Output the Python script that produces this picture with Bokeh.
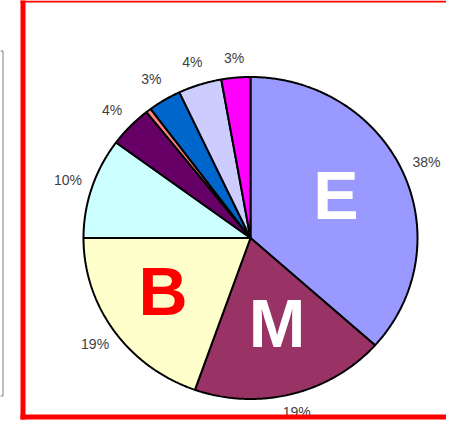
import numpy as np
from bokeh.plotting import figure
from bokeh.models import Range1d, BoxAnnotation, ColumnDataSource
from bokeh.core.properties import value
from bokeh.embed import file_html
from bokeh.resources import INLINE

# ---- data (clockwise from 12 o'clock) ----
categories = ["E", "M", "B", "C5", "C6", "C7", "C8", "C9", "C10"]
shares = [36.6, 18.8, 19.6, 10.1, 4.2, 0.5, 3.2, 4.2, 2.8]
pct_labels = ["38%", "19%", "19%", "10%", "4%", "", "3%", "4%", "3%"]
colors = ["#9999FF", "#993366", "#FFFFCC", "#CCFFFF", "#660066",
          "#FF8080", "#0066CC", "#CCCCFF", "#FF00FF"]
label_radius = [1.155, 1.115, 1.14, 1.15, 1.15, 1.15, 1.155, 1.15, 1.125]
big_letters = ["E", "M", "B"]
big_colors = ["white", "white", "#FF0000"]
big_radius = [0.577, 0.551, 0.62]
big_angle_shift = [3.4, 2.4, -2.9]

W, H = 446, 421
p = figure(width=W, height=H, output_backend="svg", toolbar_location=None,
           min_border=0, x_axis_type=None, y_axis_type=None)
p.outline_line_color = None
p.grid.visible = False
p.background_fill_color = "white"

# scale: 167 px per unit horizontally, 161 px per unit vertically
cx, cy = 250.0, 237.5
sx, sy = 167.0, 161.0
p.x_range = Range1d(-cx / sx, (W - cx) / sx)
p.y_range = Range1d(-(H - cy) / sy, cy / sy)

vals = np.array(shares, dtype=float)
fr = vals / vals.sum()
ends = 90.0 - 360.0 * np.cumsum(fr)
starts = np.concatenate([[90.0], ends[:-1]])

xs, ys = [], []
for a0, a1 in zip(starts, ends):
    t = np.radians(np.linspace(a0, a1, max(4, int(abs(a0 - a1) * 2))))
    xs.append([0.0] + list(np.cos(t)) + [0.0])
    ys.append([0.0] + list(np.sin(t)) + [0.0])

src = ColumnDataSource(dict(xs=xs, ys=ys, color=colors, cat=categories))
p.patches("xs", "ys", source=src, fill_color="color", line_color="black",
          line_width=2)

mid_deg = (starts + ends) / 2
mids = np.radians(mid_deg)
lr = np.array(label_radius)
lab_src = ColumnDataSource(dict(x=lr * np.cos(mids), y=lr * np.sin(mids),
                                t=pct_labels))
p.text("x", "y", text="t", source=lab_src, text_align="center",
       text_baseline="middle", text_font=value("Liberation Sans"),
       text_font_size="14px", text_color="#404040")

ang = np.radians(mid_deg[:3] + np.array(big_angle_shift))
rad = np.array(big_radius)
big_src = ColumnDataSource(dict(x=rad * np.cos(ang), y=rad * np.sin(ang),
                                t=big_letters, c=big_colors))
p.text("x", "y", text="t", source=big_src, text_color="c",
       text_align="center", text_baseline="middle",
       text_font=value("Liberation Sans"), text_font_style="bold",
       text_font_size="68px")

# red frame pieces (screen units)
for l, r, t, b in [(20, 25, 2, 437), (20, 470, 2, 7), (20, 470, 419, 421)]:
    p.add_layout(BoxAnnotation(left=l, right=r, top=t, bottom=b,
                               left_units="screen", right_units="screen",
                               top_units="screen", bottom_units="screen",
                               fill_color="#FF0000", fill_alpha=1.0,
                               line_color=None))

# partial grey box at the far left
p.add_layout(BoxAnnotation(left=-20, right=2.5, top=25.5, bottom=370.5,
                           left_units="screen", right_units="screen",
                           top_units="screen", bottom_units="screen",
                           fill_alpha=0, line_color="#808080", line_alpha=1.0,
                           line_width=1))

open("out.html", "w").write(file_html(p, INLINE))
